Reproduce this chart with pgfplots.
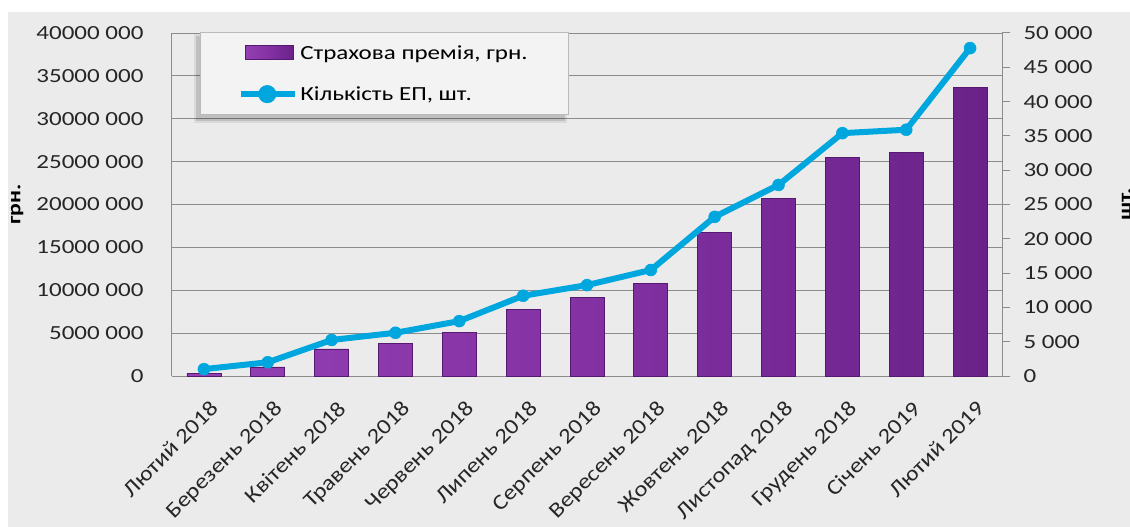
\documentclass[border=0pt]{standalone}
\usepackage{fontspec}
\setmainfont{Carlito}[FakeStretch=1.25]
\newfontfamily\xlab{Carlito}[FakeStretch=1.15]
\usepackage{pgfplots}
\pgfplotsset{compat=1.18}
\definecolor{bg}{HTML}{EBEBEB}
\definecolor{barc}{HTML}{8331A3}
\definecolor{barl}{HTML}{9440B5}
\definecolor{bard}{HTML}{6A2289}
\definecolor{bare}{HTML}{551A70}
\definecolor{linec}{HTML}{00A6DE}
\definecolor{gridc}{HTML}{8C8C8C}
\pgfplotstableread{
x prem
0 350000
1 1050000
2 3150000
3 3750000
4 5100000
5 7800000
6 9150000
7 10800000
8 16750000
9 20700000
10 25450000
11 26100000
12 33600000
}\premtable
\pgfplotstableread{
x cnt
0 1000
1 2000
2 5250
3 6300
4 8000
5 11700
6 13250
7 15450
8 23200
9 27850
10 35400
11 35900
12 47800
}\cnttable
\begin{document}
\begin{tikzpicture}
\fill[white] (-172bp,-151bp) rectangle (958bp,376bp);
\fill[bg] (-164bp,-151bp) rectangle (958bp,364bp);
\begin{axis}[
  scale only axis, width=830bp, height=343bp,
  xmin=-0.5, xmax=12.5, ymin=0, ymax=40000000,
  scaled y ticks=false,
  axis x line*=bottom, axis y line*=left,
  axis line style={gridc, line width=1bp},
  xtick={0,...,12},
  xticklabels={Лютий 2018, Березень 2018, Квітень 2018, Травень 2018, Червень 2018, Липень 2018, Серпень 2018, Вересень 2018, Жовтень 2018, Листопад 2018, Грудень 2018, Січень 2019, Лютий 2019},
  xticklabel style={yshift=-22bp, xshift=5bp, rotate=45, anchor=north east, font=\xlab\fontsize{21.5bp}{23bp}\selectfont, text=black!85, inner sep=1bp},
  ytick={0,5000000,10000000,15000000,20000000,25000000,30000000,35000000,40000000},
  yticklabels={0,5000 000,10000 000,15000 000,20000 000,25000 000,30000 000,35000 000,40000 000},
  yticklabel style={font=\fontsize{20bp}{22bp}\selectfont, text=black!85, xshift=-25bp},
  major tick length=0pt,
  ymajorgrids, grid style={gridc, line width=1bp},
  ylabel={\bfseries грн.},
  ylabel style={font=\fontsize{19bp}{22bp}\selectfont, at={(axis description cs:-0.1865,0.5)}, anchor=center},
  ybar, bar width=34bp,
]
\addplot[draw=bare, line width=0.8bp, left color=barl, right color=bard, middle color=barc, shading=axis] table[x=x, y=prem] {\premtable};
\end{axis}
\fill[black, opacity=0.12] (24bp,255bp) rectangle (393bp,340bp);
\fill[black, opacity=0.07] (22bp,253bp) rectangle (395bp,342bp);
\begin{axis}[
  scale only axis, width=830bp, height=343bp,
  xmin=-0.5, xmax=12.5, ymin=0, ymax=50000,
  scaled y ticks=false,
  axis x line=none, axis y line*=right,
  axis line style={gridc, line width=1bp},
  ytick={0,5000,10000,15000,20000,25000,30000,35000,40000,45000,50000},
  yticklabels={0,5 000,10 000,15 000,20 000,25 000,30 000,35 000,40 000,45 000,50 000},
  yticklabel style={font=\fontsize{20bp}{22bp}\selectfont, text=black!85, anchor=west, xshift=10bp},
  major tick length=8bp, tick align=outside, tick style={gridc, line width=1bp},
  ylabel={\bfseries шт.},
  ylabel style={font=\fontsize{19bp}{22bp}\selectfont, at={(axis description cs:1.15,0.5)}, anchor=center},
  legend style={at={(axis description cs:0.0337,1.003)}, anchor=north west,
    fill=bg!60!white, draw=gridc!60, line width=0.6bp,
    font=\fontsize{20bp}{22bp}\selectfont,
    inner xsep=38bp, inner ysep=11bp, row sep=22bp,
    nodes={inner xsep=2bp},
    legend cell align=left},
]
\addlegendimage{legend image code/.code={\draw[draw=bare, line width=0.8bp, left color=barl, right color=bard, middle color=barc, shading=axis] (0bp,-7bp) rectangle (48bp,7bp);}}
\addlegendentry{Страхова премія, грн.}
\addplot[linec, line width=6bp, mark=*, mark size=6bp, mark options={fill=linec, draw=linec, line width=0.5bp},
  legend image code/.code={\draw[linec, line width=6bp] (-4bp,0bp) -- (50bp,0bp); \fill[linec] (22bp,0bp) circle (6bp);}]
  table[x=x, y=cnt] {\cnttable};
\addlegendentry{Кількість ЕП, шт.}
\end{axis}
\pgfresetboundingbox
\useasboundingbox (-172bp,-151bp) rectangle (958bp,376bp);
\end{tikzpicture}
\end{document}
